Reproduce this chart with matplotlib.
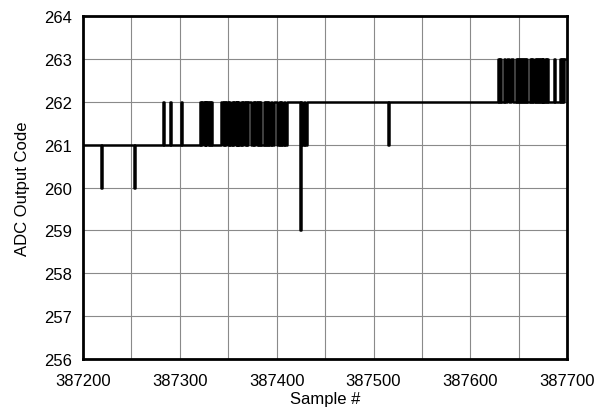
import numpy as np
import matplotlib.pyplot as plt

plt.rcParams['font.family'] = ['Liberation Sans', 'DejaVu Sans']

# first sample of the window
x0 = 387200
n_samples = 501

# run starts (offset from x0) and the ADC code held from that sample on
seg_start = [0, 19, 20, 53, 54, 83, 84, 90, 91, 102, 103,
             121, 122, 123, 125, 126, 127, 128, 130, 131, 132, 133, 134,
             143, 145, 146, 147, 148, 150, 151, 152, 154, 155, 156, 158,
             159, 160, 161, 162, 164, 165, 166, 168, 169, 170, 171, 174,
             176, 177, 178, 180, 181, 182, 183, 184, 187, 188, 189, 190,
             192, 193, 195, 196, 198, 201, 203, 204, 205, 206, 208, 209,
             211, 225, 226, 227, 229, 230, 232, 315, 316,
             429, 430, 431, 432, 435, 436, 438, 440, 442, 444, 448, 449,
             450, 451, 452, 453, 454, 455, 456, 457, 458, 459, 462, 463,
             464, 465, 467, 468, 469, 470, 471, 472, 473, 474, 475, 476,
             478, 479, 480, 481, 487, 488, 493, 494, 495, 496, 497]
seg_level = [261, 260, 261, 260, 261, 262, 261, 262, 261, 262, 261,
             262, 261, 262, 261, 262, 261, 262, 261, 262, 261, 262, 261,
             262, 261, 262, 261, 262, 261, 262, 261, 262, 261, 262, 261,
             262, 261, 262, 261, 262, 261, 262, 261, 262, 261, 262, 261,
             262, 261, 262, 261, 262, 261, 262, 261, 262, 261, 262, 261,
             262, 261, 262, 261, 262, 261, 262, 261, 262, 261, 262, 261,
             262, 259, 262, 261, 262, 261, 262, 261, 262,
             263, 262, 263, 262, 263, 262, 263, 262, 263, 262, 263, 262,
             263, 262, 263, 262, 263, 262, 263, 262, 263, 262, 263, 262,
             263, 262, 263, 262, 263, 262, 263, 262, 263, 262, 263, 262,
             263, 262, 263, 262, 263, 262, 263, 262, 263, 262, 263]

xticks = [387200, 387300, 387400, 387500, 387600, 387700]
yticks = [256, 257, 258, 259, 260, 261, 262, 263, 264]

# expand runs to one code per sample
run_len = np.diff(seg_start + [n_samples])
codes = np.repeat(seg_level, run_len)
samples = x0 + np.arange(n_samples)

fig = plt.figure(figsize=(6.06, 4.14), dpi=100)
ax = fig.add_axes([0.137, 0.130, 0.799, 0.829])

ax.plot(samples, codes, color='black', lw=1.8, drawstyle='steps-mid', zorder=3)

ax.set_xlim(387200, 387700)
ax.set_ylim(256, 264)
ax.set_xticks(xticks)
ax.set_xticks(np.arange(387200, 387701, 50), minor=True)
ax.set_yticks(yticks)
ax.grid(True, which='both', color='#8a8a8a', lw=0.8)
ax.tick_params(which='both', length=0, labelsize=12)
ax.tick_params(axis='x', pad=10)
ax.tick_params(axis='y', pad=8)
for s in ax.spines.values():
    s.set_linewidth(2)

ax.set_xlabel('Sample #', fontsize=12, labelpad=2)
ax.set_ylabel('ADC Output Code', fontsize=12, labelpad=10)

fig.savefig('out.png', dpi=100)
